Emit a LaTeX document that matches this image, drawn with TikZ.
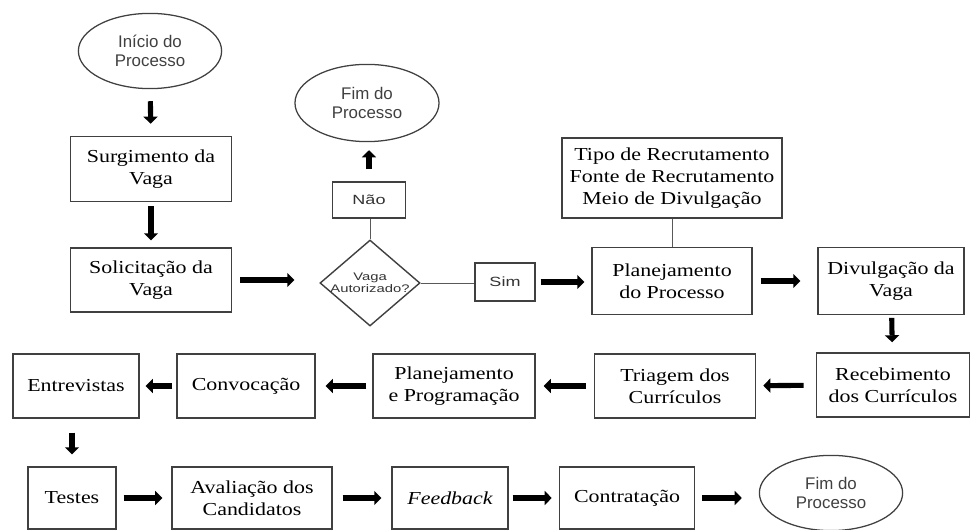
\documentclass[tikz,border=0pt]{standalone}
\usepackage{fontspec}
\setmainfont[FakeStretch=1.2]{Liberation Serif}
\setsansfont{Liberation Sans}
\newfontfamily\widesans[FakeStretch=1.35]{Liberation Sans}
\usetikzlibrary{arrows.meta,shapes.geometric}

\begin{document}
\begin{tikzpicture}[x=0.025cm,y=-0.025cm,
  font=\fontsize{13}{15.5}\selectfont,
  box/.style={draw=black!75, line width=1pt, minimum width=4cm, minimum height=1.6cm, align=center, inner sep=1pt},
  term/.style={ellipse, draw=black!75, line width=0.9pt, minimum width=3.58cm, minimum height=1.88cm, align=center, inner sep=0pt, text=black!75, font=\sffamily\fontsize{12}{14}\selectfont},
  tag/.style={draw=black!75, line width=1pt, inner sep=0pt, text=black!80, font=\widesans\fontsize{9.5}{11}\selectfont},
  dec/.style={diamond, draw=black!75, line width=1pt, minimum width=2.5cm, minimum height=2.15cm, inner sep=0pt},
  arr/.style={-{Triangle[length=5pt,width=10pt]}, line width=3.6pt},
  link/.style={draw=black!65, line width=0.7pt}
]
\useasboundingbox (0,0) rectangle (971,530);
% first column and decision
\node[term] (inicio) at (150,51) {Início do\\Processo};
\node[box, minimum width=4.03cm, minimum height=1.63cm] (surg) at (151,169) {Surgimento da\\Vaga};
\node[box, minimum width=4.03cm] (solic) at (151,280) {Solicitação da\\Vaga};
\node[dec, label={[font=\widesans\fontsize{7.8}{8.6}\selectfont, align=center, text=black!80]center:Vaga\\Autorizado?}] (autor) at (370,283) {};
\node[tag, minimum width=1.83cm, minimum height=0.9cm] (nao) at (369,200) {Não};
\node[term, minimum width=3.6cm, minimum height=1.93cm] (fimA) at (367,103) {Fim do\\Processo};
\node[tag, minimum width=1.5cm, minimum height=0.95cm] (sim) at (505,282) {Sim};
% planning
\node[box, minimum height=1.66cm] (plan) at (672,281) {Planejamento\\do Processo};
\node[box, minimum width=5.5cm, minimum height=2cm] (tipo) at (672,178) {Tipo de Recrutamento\\Fonte de Recrutamento\\Meio de Divulgação};
\node[box, minimum width=3.65cm, minimum height=1.66cm] (divulg) at (891,281) {Divulgação da\\Vaga};
% second row, right to left
\node[box, minimum width=3.83cm] (receb) at (893,385) {Recebimento\\dos Currículos};
\node[box, minimum width=4.03cm] (triag) at (675,386) {Triagem dos\\Currículos};
\node[box, minimum width=4.05cm] (planprog) at (454,386) {Planejamento\\e Programação};
\node[box, minimum width=3.45cm] (convoc) at (246,386) {Convocação};
\node[box, minimum width=3.15cm] (entrev) at (76,386) {Entrevistas};
% third row
\node[box, minimum width=2.2cm, minimum height=1.55cm] (testes) at (72,498) {Testes};
\node[box, minimum height=1.55cm] (aval) at (252,498) {Avaliação dos\\Candidatos};
\node[box, minimum width=2.9cm, minimum height=1.55cm] (feed) at (450,498) {\itshape Feedback};
\node[box, minimum width=3.38cm, minimum height=1.55cm] (contr) at (627,498) {Contratação};
\node[term] (fimB) at (831,493) {Fim do\\Processo};
% connectors
\draw[arr, shorten <=0.3cm, shorten >=0.3cm] (inicio) -- (surg);
\draw[arr, shorten <=0.1cm, shorten >=0.175cm] (surg) -- (solic);
\draw[arr, shorten <=0.2cm, shorten >=0.625cm] (solic.east) -- (solic.east -| autor.west);
\draw[link] (autor.north) -- (autor.north |- nao.south);
\draw[arr, shorten <=0.3cm, shorten >=0.2cm] (nao.north) -- (nao.north |- fimA.south);
\draw[link] (autor.east) -- (autor.east -| sim.west);
\draw[arr, shorten <=0.125cm, shorten >=0.175cm] (sim.east) -- (sim.east -| plan.west);
\draw[link] (tipo.south) -- (plan.north);
\draw[arr, shorten <=0.2cm, shorten >=0.425cm] (plan) -- (divulg);
\draw[arr, shorten <=0.075cm, shorten >=0.25cm] (divulg) -- (receb);
\draw[arr, shorten <=0.3cm, shorten >=0.175cm] (receb) -- (triag);
\draw[arr, shorten <=0.2cm, shorten >=0.2cm] (triag) -- (planprog);
\draw[arr, shorten <=0.15cm, shorten >=0.25cm] (planprog) -- (convoc);
\draw[arr, shorten <=0.1cm, shorten >=0.15cm] (convoc) -- (entrev);
\draw[arr, shorten <=0.35cm, shorten >=0.3cm] (testes.north |- entrev.south) -- (testes.north);
\draw[arr, shorten <=0.175cm, shorten >=0.225cm] (testes) -- (aval);
\draw[arr, shorten <=0.25cm, shorten >=0.25cm] (aval) -- (feed);
\draw[arr, shorten <=0.1cm, shorten >=0.175cm] (feed) -- (contr);
\draw[arr, shorten <=0.175cm, shorten >=0.425cm] (contr.east) -- (contr.east -| fimB.west);
\end{tikzpicture}
\end{document}
